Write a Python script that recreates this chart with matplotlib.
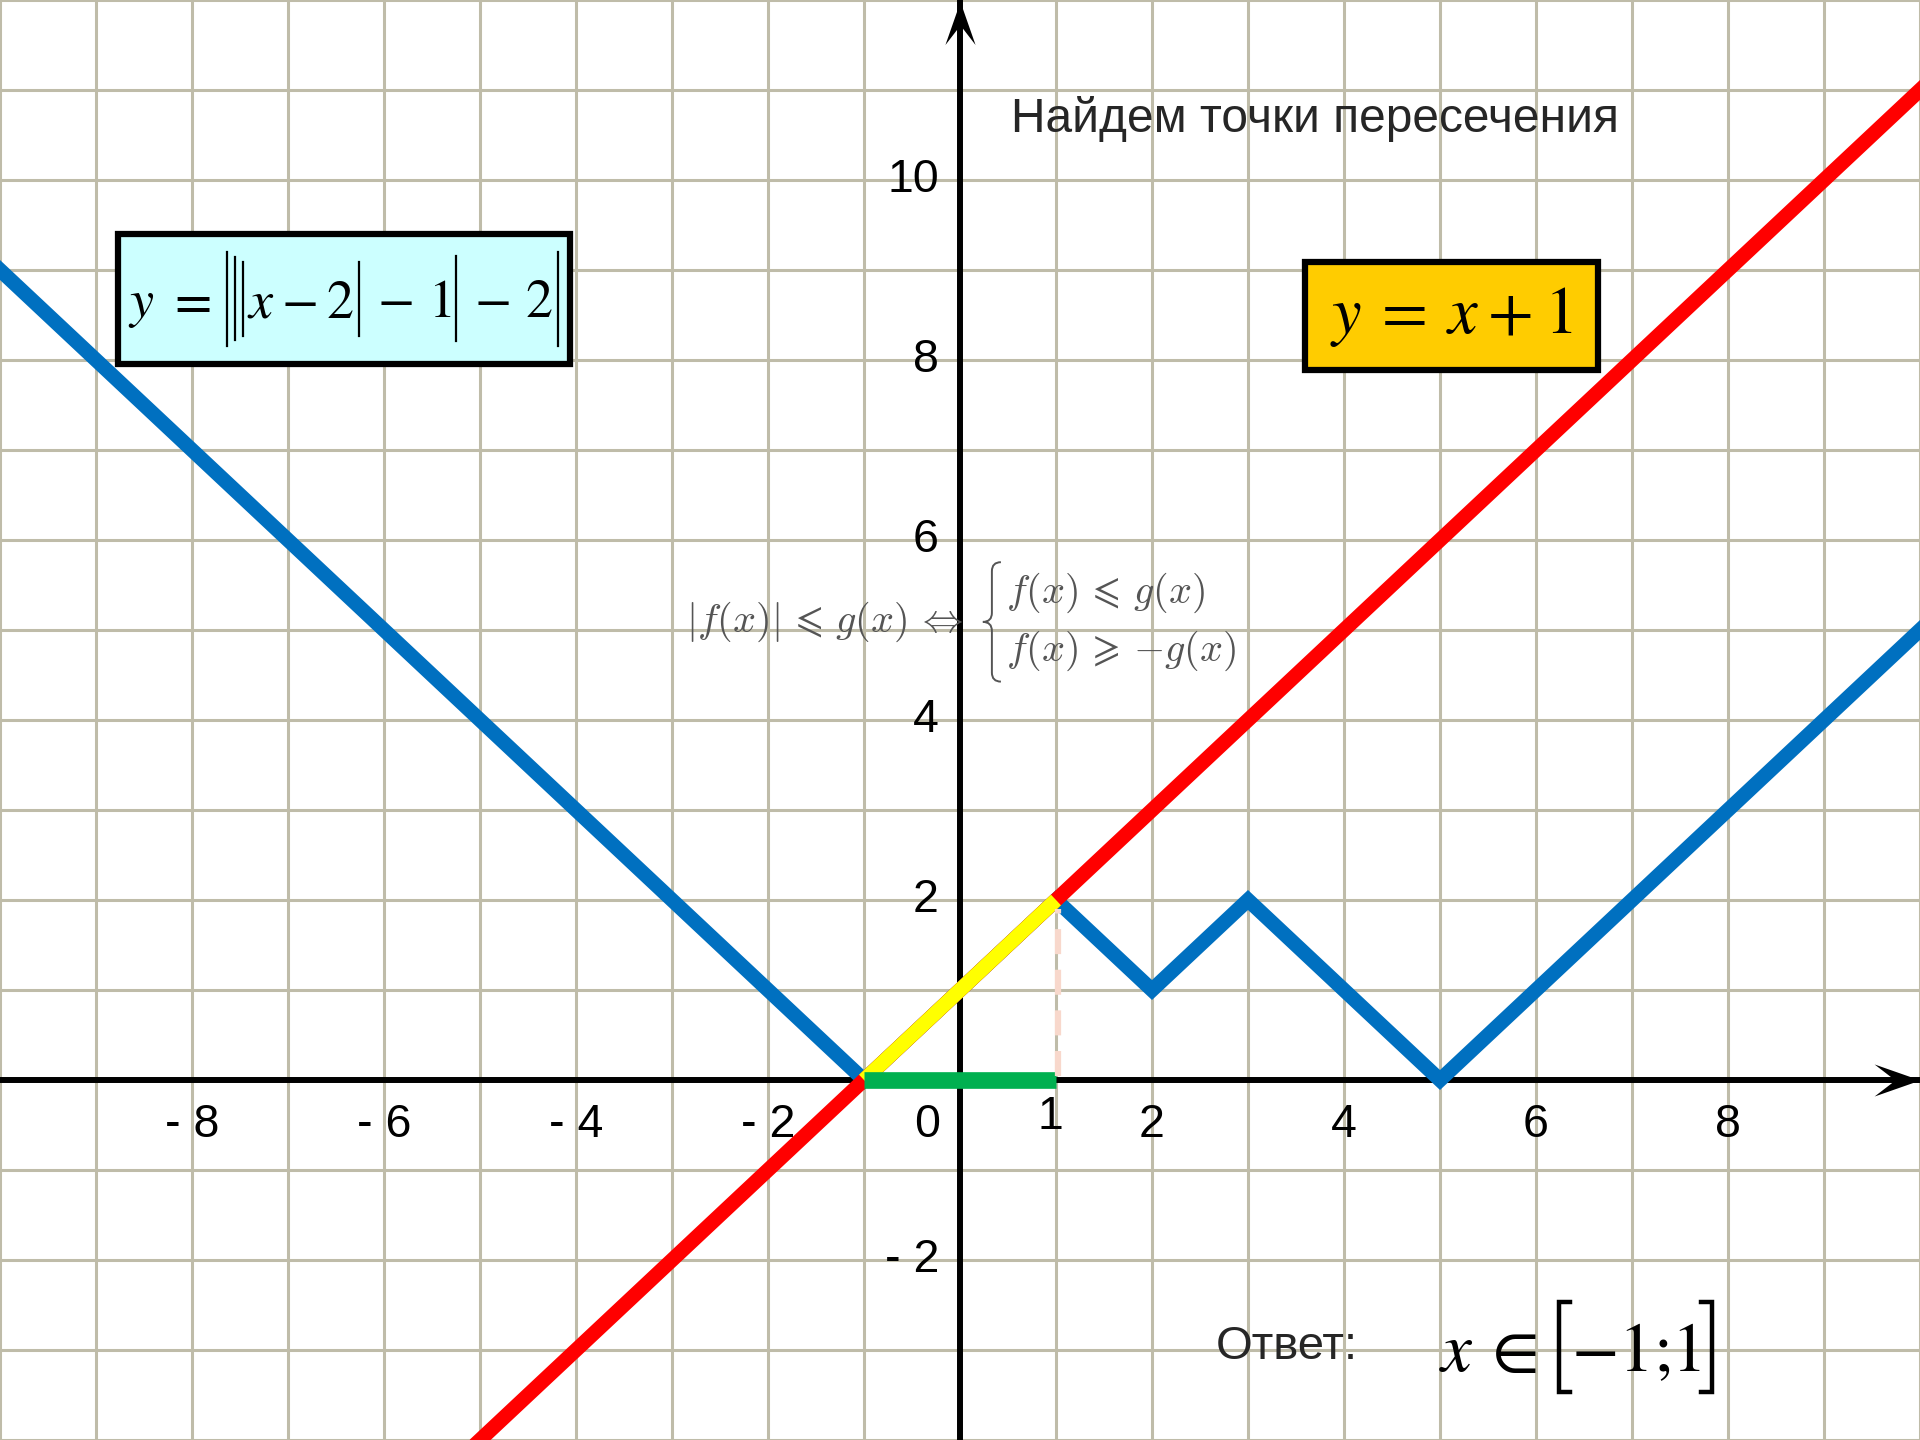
import numpy as np
import matplotlib.pyplot as plt
from matplotlib.path import Path
from matplotlib.patches import Rectangle, PathPatch
from matplotlib.lines import Line2D
from matplotlib.offsetbox import TextArea, DrawingArea, HPacker, VPacker, AnnotationBbox

plt.rcParams['font.family'] = ['Liberation Sans', 'DejaVu Sans']

# abscissa nodes of the broken line y = |||x-2|-1|-2|
x_nodes = np.array([-10, -1, 1, 2, 3, 5, 10])
y_nodes = np.abs(np.abs(np.abs(x_nodes - 2) - 1) - 2)

# line y = x + 1
x_line = np.array([-5, 10])
y_line = x_line + 1

# solution segment
x_sol = np.array([-1, 1])
y_sol = x_sol + 1
y_zero = np.array([0, 0])

x_ticks = [-8, -6, -4, -2, 2, 4, 6, 8]
y_ticks = [10, 8, 6, 4, 2, -2]

grid_color = '#BFBCA9'
blue = '#0070C0'
red = '#FF0000'
yellow = '#FFFF00'
green = '#00B050'
gray = '#555555'

fig = plt.figure(figsize=(19.2, 14.4), dpi=100)
ax = fig.add_axes([0, 0, 1, 1])
ax.set_xlim(-10, 10)
ax.set_ylim(-4, 12)
ax.set_xticks(range(-10, 11))
ax.set_yticks(range(-4, 13))
ax.tick_params(length=0, labelbottom=False, labelleft=False)
for s in ax.spines.values():
    s.set_visible(False)
ax.grid(color=grid_color, lw=2.2)
ax.set_axisbelow(True)

# axes with stealth arrowheads
ax.axhline(0, color='k', lw=4.3, zorder=2)
ax.axvline(0, color='k', lw=4.3, zorder=2)
stealth = Path([(1, 0), (-1, 0.7), (-0.09, 0), (-1, -0.7), (1, 0)],
               [Path.MOVETO, Path.LINETO, Path.LINETO, Path.LINETO, Path.CLOSEPOLY])
stealth_up = Path([(0, 1), (0.7, -1), (0, -0.09), (-0.7, -1), (0, 1)],
                  [Path.MOVETO, Path.LINETO, Path.LINETO, Path.LINETO, Path.CLOSEPOLY])
ax.plot(9.76, 0, marker=stealth, markersize=33, color='k', mew=0, zorder=3, clip_on=False)
ax.plot(0, 11.74, marker=stealth_up, markersize=31, color='k', mew=0, zorder=3, clip_on=False)

# curves
ax.plot(x_nodes, y_nodes, color=blue, lw=10.5, solid_joinstyle='miter', zorder=4)
ax.plot(x_line, y_line, color=red, lw=10.5, zorder=5)
ax.plot(x_sol, y_sol, color=yellow, lw=10.5, solid_capstyle='butt', zorder=6)
ax.plot(x_sol, y_zero, color=green, lw=12, solid_capstyle='butt', zorder=6)
ax.plot([1.02, 1.02], [0.05, 1.9], color='#F8D8CC', lw=4.5, ls=(0, (4, 2.5)), zorder=6)

# tick labels
for t in x_ticks:
    lab = str(t) if t > 0 else '- %d' % abs(t)
    ax.text(t, -0.5, lab, ha='center', va='center', fontsize=33.5)
ax.text(-0.34, -0.5, '0', ha='center', va='center', fontsize=33.5)
ax.text(0.94, -0.41, '1', ha='center', va='center', fontsize=33.5)
for t in y_ticks:
    lab = str(t) if t > 0 else '- %d' % abs(t)
    ax.text(-0.22, t, lab, ha='right', va='center', fontsize=33.5)

ax.text(0.53, 10.68, 'Найдем точки пересечения', ha='left', va='center',
        fontsize=34.5, color='#262626')


def spacer(w):
    return DrawingArea(w, 1, 0, 0)


def bar(h, fs):
    # tall modulus bar centred on the digit middle
    yd = h / 2 - 0.34 * fs
    da = DrawingArea(5.8, h, 0, yd)
    da.add_artist(Line2D([2.9, 2.9], [-yd, h - yd], color='k', lw=1.6))
    return da


def bracket(h, fs, left=True):
    w = 12
    yd = h / 2 - 0.34 * fs
    da = DrawingArea(w, h, 0, yd)
    xs = [w - 1, 3, 3, w - 1] if left else [1, w - 3, w - 3, 1]
    da.add_artist(Line2D(xs, [-yd, -yd, h - yd, h - yd], color='k', lw=3.2,
                         solid_joinstyle='miter'))
    return da


def brace(h, w, color):
    verts = [(w, h), (w / 2, h), (w / 2, h - w / 2),
             (w / 2, h / 2 + w / 2), (w / 2, h / 2), (0, h / 2),
             (w / 2, h / 2), (w / 2, h / 2 - w / 2),
             (w / 2, w / 2), (w / 2, 0), (w, 0)]
    codes = [Path.MOVETO, Path.CURVE3, Path.CURVE3,
             Path.LINETO, Path.CURVE3, Path.CURVE3,
             Path.CURVE3, Path.CURVE3,
             Path.LINETO, Path.CURVE3, Path.CURVE3]
    da = DrawingArea(w, h, 0, 0)
    da.add_artist(PathPatch(Path(verts, codes), facecolor='none', edgecolor=color, lw=1.4))
    return da


def math_piece(s, fs, font='stix', color='k'):
    return TextArea(s, textprops=dict(fontsize=fs, math_fontfamily=font, color=color))


# formula boxes
fs1 = 39
ax.add_patch(Rectangle((-8.77, 7.96), 4.71, 1.44, facecolor='#CCFFFF',
                       edgecolor='k', lw=4.5, zorder=7))
pieces = [math_piece(r'$y$', fs1), spacer(9), math_piece(r'$=$', fs1), spacer(9),
          bar(68, fs1), bar(60, fs1), bar(53, fs1),
          math_piece(r'$x\:-\:2$', fs1), bar(53, fs1), math_piece(r'$\,-\,1$', fs1),
          bar(61, fs1), math_piece(r'$\,-\,2$', fs1), bar(68, fs1)]
pack = HPacker(children=pieces, align='baseline', pad=0, sep=0)
ab = AnnotationBbox(pack, (-6.41, 8.68), frameon=False, box_alignment=(0.5, 0.5),
                    zorder=8)
ax.add_artist(ab)

ax.add_patch(Rectangle((3.59, 7.89), 3.06, 1.2, facecolor='#FFCC00',
                       edgecolor='k', lw=4.5, zorder=7))
ax.text(5.12, 8.48, r'$y\:=\:x\:+\:1$', ha='center', va='center', fontsize=48,
        math_fontfamily='stix', zorder=8)

# property of absolute value
fs3 = 29
rows = VPacker(children=[math_piece(r'$f(x)\,\leqslant\,g(x)$', fs3, 'cm', gray),
                         math_piece(r'$f(x)\,\geqslant\,{-g(x)}$', fs3, 'cm', gray)],
               align='left', pad=0, sep=10.5)
prop = HPacker(children=[math_piece(r'$|f(x)|\,\leqslant\,g(x)\,\Leftrightarrow$', fs3, 'cm', gray),
                         spacer(14), brace(86, 13, gray), spacer(4), rows],
               align='center', pad=0, sep=0)
ax.add_artist(AnnotationBbox(prop, (-2.85, 5.09), frameon=False,
                             box_alignment=(0.0, 0.5), zorder=8))

# answer
ax.text(2.66, -2.97, 'Ответ:', ha='left', va='center', fontsize=34, color='#262626')
fs2 = 50
ans = [math_piece(r'$x$', fs2), spacer(5), math_piece(r'$\in$', fs2), spacer(13),
       bracket(65, fs2, True), math_piece(r'$-1;$', fs2), math_piece(r'$1$', fs2),
       bracket(65, fs2, False)]
pack2 = HPacker(children=ans, align='baseline', pad=0, sep=0)
ab2 = AnnotationBbox(pack2, (4.99, -2.97), frameon=False, box_alignment=(0.0, 0.5),
                     zorder=8)
ax.add_artist(ab2)

fig.savefig('out.png', dpi=100)
